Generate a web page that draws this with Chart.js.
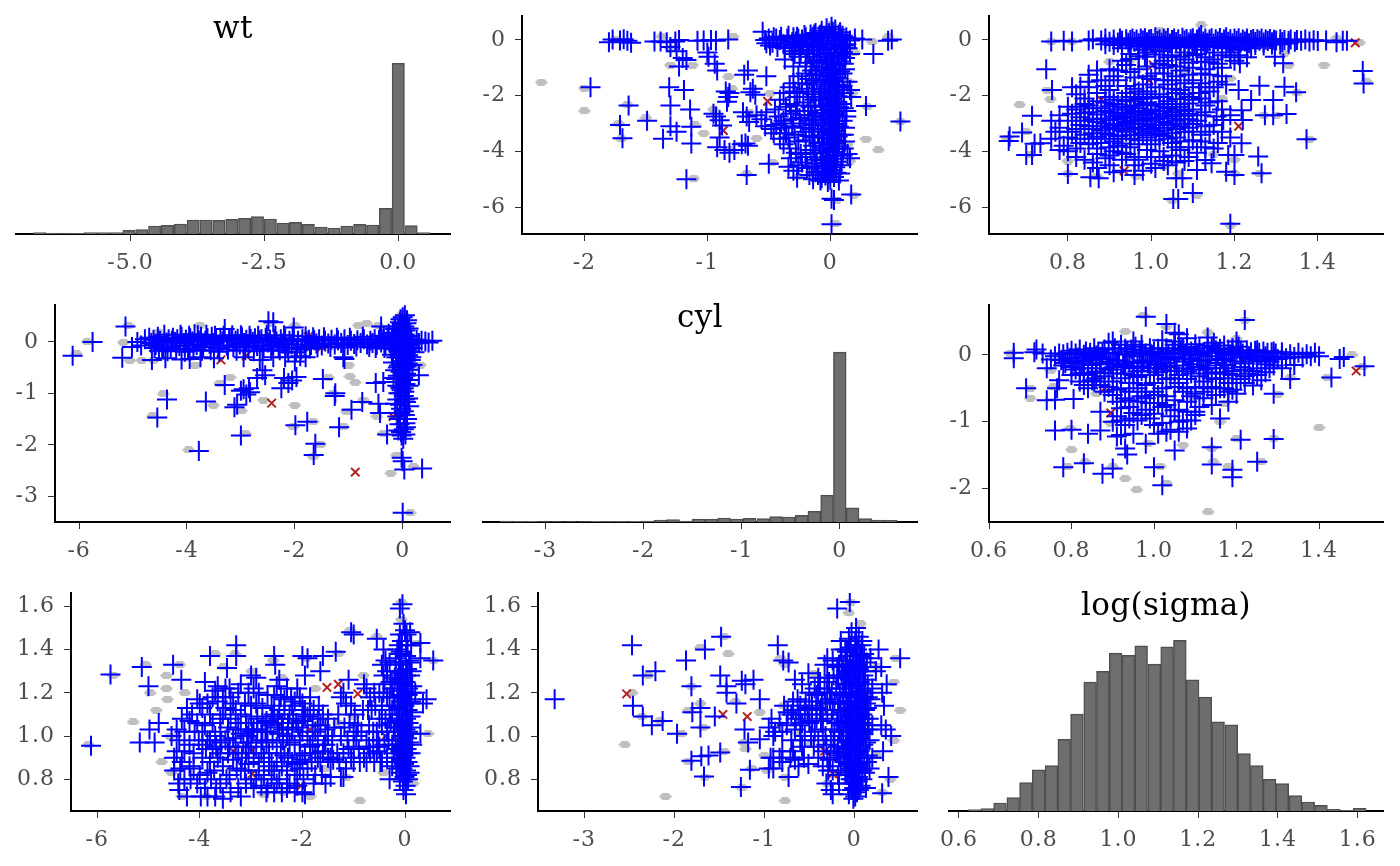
<!DOCTYPE html>
<html>
<head>
<meta charset="utf-8">
<title>pairs</title>
<script src="https://cdn.jsdelivr.net/npm/chart.js@4"></script>
<style>
html, body { margin: 0; padding: 0; background: #fff; }
body { width: 1400px; height: 866px; position: relative; overflow: hidden; }
canvas { position: absolute; }
</style>
</head>
<body>
<script>
// histograms on the diagonal: bin centres and heights
const wtBins = [-6.7,-6.46,-6.22,-5.99,-5.75,-5.51,-5.27,-5.03,-4.79,-4.55,-4.31,-4.07,-3.83,-3.59,-3.35,-3.11,-2.87,-2.63,-2.39,-2.15,-1.92,-1.68,-1.44,-1.2,-.96,-.72,-.48,-.24,0,.24,.48];
const wtCounts = [4,3,3,2,4,4,4,11,13,24,26,30,42,42,41,44,47,52,45,33,35,29,21,18,24,29,27,77,512,25,4];
const cylBins = [-3.4,-3.27,-3.14,-3.01,-2.88,-2.75,-2.61,-2.48,-2.35,-2.22,-2.09,-1.96,-1.83,-1.7,-1.57,-1.44,-1.31,-1.18,-1.05,-.92,-.78,-.65,-.52,-.39,-.26,-.13,0,.13,.26,.39,.52];
const cylCounts = [3,2,2,1,1,1,1,2,2,2,2,3,6,7,3,9,8,12,9,11,10,16,15,20,32,81,511,43,10,6,5];
const sigmaBins = [.639,.671,.703,.736,.768,.8,.832,.864,.896,.929,.961,.993,1.025,1.057,1.09,1.122,1.154,1.186,1.218,1.25,1.283,1.315,1.347,1.379,1.411,1.444,1.476,1.508,1.54,1.572,1.605];
const sigmaCounts = [4,7,24,40,85,123,136,215,290,386,418,473,466,495,440,492,511,393,341,267,258,172,136,95,82,46,27,17,5,2,8];

// tick labels
const wtHistTicks = [-5,-2.5,0];
const wtHistLabels = ['-5.0','-2.5','0.0'];
const cylTicks = [-3,-2,-1,0];
const cylLabels = ['-3','-2','-1','0'];
const sigmaHistTicks = [.6,.8,1,1.2,1.4,1.6];
const sigmaHistLabels = ['0.6','0.8','1.0','1.2','1.4','1.6'];
const wtAxisTicks = [-6,-4,-2,0];
const wtAxisLabels = ['-6','-4','-2','0'];
const wtValTicks = [-6,-4,-2,0];
const wtValLabels = ['-6','-4','-2','0'];
const cylValTicks = [-3,-2,-1,0];
const cylValLabels = ['-3','-2','-1','0'];
const sigmaXTicks = [.8,1,1.2,1.4];
const sigmaXLabels = ['0.8','1.0','1.2','1.4'];
const sigmaXTicks6 = [.6,.8,1,1.2,1.4];
const sigmaXLabels6 = ['0.6','0.8','1.0','1.2','1.4'];
const sigmaYTicks = [.8,1,1.2,1.4,1.6];
const sigmaYLabels = ['0.8','1.0','1.2','1.4','1.6'];

// row 1 col 2: cyl (x) against wt (y)
const cylWtPlus = [[-1.95,-1.7],[-1.8,-.08],[-1.77,.02],[-1.71,-.02],[-1.68,.03],[-1.65,-.03],[-1.62,-.1],[-1.64,-2.35],[-1.49,-2.9],[-1.71,-3.05],[-1.69,-3.53],[-1.36,-3.55],[-1.31,-1.7],[-1.3,-2.35],[-1.3,-3.1],[-1.25,-3.3],[-1.19,-1.8],[-1.14,-2.5],[-1.13,-3.12],[-1.13,-3.72],[-1.17,-5],[-1.43,-.05],[-1.38,-.05],[-1.33,-.08],[-1.26,-.05],[-1.23,0],[-1.3,-.25],[-1.25,-.4],[-1.2,-.65],[-1.17,-.72],[-1.23,-.95],[-1.08,-.03],[-1.03,-.02],[-.97,0],[-.93,-.03],[-.83,.02],[-1,-.45],[-.99,-.6],[-.94,-.85],[-.92,-1.1],[-.82,-1.9],[-.85,-1.85],[-.83,-2.05],[-.84,-2.22],[-.95,-2.65],[-.93,-2.75],[-.9,-2.88],[-.88,-3.07],[-.9,-3.5],[-.92,-3.85],[-.86,-3.95],[-.82,-4.05],[-.78,-3.95],[-.72,-3.75],[-.69,-3.72],[-.67,-3.8],[-.7,-1.25],[-.67,-1.1],[-.52,-1.3],[-.63,-1.75],[-.65,-1.88],[-.61,-1.97],[-.71,-2.6],[-.68,-2.75],[-.66,-2.95],[-.6,-2.7],[-.56,-2.85],[-.52,-2.6],[-.48,-3.2],[-.44,-3.05],[-.4,-3],[-.68,-4.85],[-.5,-4.45],[-.38,-2.9],[-.36,-3.35],[-.34,-3.5],[-.32,-2.65],[-.33,-3.9],[-.32,-4.25],[-.34,-4.55],[-.3,-4.7],[-.27,-4.95],[-.33,-1.7],[-.29,-1.85],[-.27,-2.05],[-.25,-1.9],[-.22,-2.25],[-.24,-3],[-.22,-3.3],[-.2,-3.6],[-.18,-2.55],[-.17,-2.9],[-.15,-3.2],[-.14,-3.8],[-.13,-4.3],[-.12,-4.05],[-.15,-1.85],[-.13,-2.15],[-.12,-1.25],[-.16,-.95],[-.11,-.8],[-.12,-4.75],[-.08,-5.05],[-.55,.3],[-.53,0],[-.5,.05],[-.47,-.1],[-.44,.05],[-.41,0],[-.38,-.15],[-.35,.05],[-.33,-.28],[-.3,.1],[-.28,-.05],[-.26,.05],[-.23,.02],[-.2,.1],[-.18,-.2],[-.16,.05],[-.14,.12],[-.37,-.7],[-.3,-.95],[-.25,-.6],[-.2,-.82],[-.13,-.35],[-.17,-.5],[.13,.1],[.16,-.02],[.2,.05],[.26,.02],[.14,-.3],[.16,-.5],[.12,-.65],[.35,-.5],[.47,-.03],[.5,.02],[.14,-1.5],[.16,-1.8],[.17,-2.05],[.13,-2.55],[.13,-2.75],[.12,-3.15],[.12,-3.65],[.16,-4.25],[.14,-4.1],[.29,-2.37],[.57,-2.93],[.17,-5.55],[.01,-5.7],[.03,-5.75],[.01,-6.62],[.01,.48],[-.03,.42],[.04,.38],[-.07,.33],[.02,.28],[-.01,.24],[.07,.2],[-.09,.15],[.03,.11],[-.05,.07],[.09,.03],[-.02,-.02],[.05,-.06],[-.11,-.1],[.01,-.15],[-.06,-.2],[.08,-.24],[-.03,-.29],[.04,-.33],[-.08,-.38],[.1,-.43],[0,-.47],[-.05,-.52],[.06,-.57],[-.02,-.62],[.03,-.67],[-.09,-.72],[.07,-.77],[-.04,-.82],[.01,-.87],[.05,-.92],[-.07,-.97],[.02,-1.02],[-.03,-1.07],[.08,-1.12],[-.01,-1.17],[.04,-1.22],[-.06,-1.27],[.01,-1.32],[.06,-1.37],[-.04,-1.42],[.03,-1.47],[-.08,-1.52],[0,-1.57],[.05,-1.62],[-.02,-1.67],[.07,-1.72],[-.05,-1.77],[.02,-1.82],[-.07,-1.87],[.04,-1.92],[-.01,-1.97],[.06,-2.02],[-.04,-2.07],[.01,-2.12],[-.08,-2.17],[.05,-2.22],[-.02,-2.27],[.03,-2.32],[-.06,-2.37],[.07,-2.42],[0,-2.47],[-.03,-2.52],[.04,-2.57],[-.07,-2.62],[.02,-2.67],[.06,-2.72],[-.05,-2.77],[.01,-2.82],[-.02,-2.87],[.05,-2.92],[-.08,-2.97],[.03,-3.02],[-.04,-3.07],[.07,-3.12],[0,-3.17],[-.06,-3.22],[.04,-3.27],[-.02,-3.32],[.02,-3.37],[-.07,-3.42],[.06,-3.47],[-.03,-3.52],[.01,-3.57],[.05,-3.62],[-.05,-3.67],[.03,-3.72],[-.01,-3.77],[.07,-3.82],[-.06,-3.87],[.02,-3.92],[-.03,-3.97],[.04,-4.02],[-.08,-4.07],[.06,-4.12],[0,-4.17],[-.04,-4.22],[.03,-4.27],[-.07,-4.32],[.05,-4.37],[-.02,-4.42],[.01,-4.47],[-.05,-4.52],[.04,-4.57],[-.03,-4.62],[.02,-4.67],[-.06,-4.72],[.05,-4.77],[-.01,-4.82],[-.04,-4.87],[.03,-4.92],[-.07,-4.97],[0,-5.02],[-.02,-5.1]];
const cylWtDense = [[-.42,-2.75],[-.37,-3.15],[-.31,-3.1],[-.29,-3.4],[-.28,-2.55],[-.26,-3.65],[-.25,-2.8],[-.24,-4.1],[-.23,-4.4],[-.21,-2.7],[-.2,-3.15],[-.19,-1.75],[-.19,-4.6],[-.18,-2.05],[-.17,-3.45],[-.16,-2.4],[-.16,-3.95],[-.15,-2.7],[-.15,-4.55],[-.14,-1.6],[-.14,-3.05],[-.13,-1.95],[-.13,-3.5],[-.12,-2.35],[-.12,-2.85],[-.11,-4.45],[-.11,-1.45],[-.1,-3.3],[-.1,-4.85],[-.09,-1.1],[-.09,-2.05],[-.09,-3.7],[.1,-1.2],[.1,-1.65],[.09,-2.3],[.1,-2.9],[.09,-3.4],[.11,-3.9],[.09,-4.5],[.09,-.6],[.11,-.85],[-.14,-.6],[-.19,-.35],[-.22,-.15],[-.25,-.25],[-.12,.25],[.13,-.15],[-.16,.2],[.08,.28],[-.31,-.4],[-.29,-.2]];
const cylWtExtra = [[-.52,-.12],[-.49,-.2],[-.46,.1],[-.43,-.25],[-.4,.12],[-.37,-.3],[-.34,.15],[-.31,-.08],[-.29,-.5],[-.27,.12],[-.24,-.42],[-.21,.18],[-.19,-.1],[-.15,-.18],[-.13,.2],[-.1,-.25],[-.08,.2],[.1,.15],[.11,-.3],[.13,-.5],[-.13,-.75],[-.15,-1.1],[-.17,-1.4],[-.23,-1.55],[-.2,-1.2],[-.26,-1.3],[-.3,-1.55],[-.38,-1.9],[-.41,-2.15],[-.36,-2.4],[-.45,-2.5],[-.33,-2.3],[-.27,-2.35],[-.3,-2.85],[-.41,-3.55],[-.38,-3.75],[-.46,-3.35],[-.53,-3.1],[-.28,-4.05],[-.26,-4.5],[-.2,-4.2],[-.17,-4.85],[-.14,-5],[.11,-.2],[.12,-1.05],[.11,-1.9],[.11,-2.45],[.11,-3.4],[.1,-4.15],[.08,-4.8],[.07,-5.05]];
const cylWtGrey = [[-2.35,-1.52],[-2,-1.73],[-2,-2.55],[-1.65,-2.33],[-1.5,-2.8],[-1.72,-3],[-1.7,-3.55],[-1.03,-3.35],[-.6,-3.53],[.29,-3.56],[.39,-3.95],[-.83,-1.32],[-.49,-1.92],[.05,-5.75],[.19,-5.57],[.04,-6.59],[-1.11,-4.97],[-.68,-4.8],[-.47,-4.4],[-.26,-4.9],[-1.3,-.9],[-1.12,-.9],[-1.37,.12],[-.79,.12],[.01,.54],[.34,-.06],[.47,.12],[.57,-2.93],[.3,-2.4],[-.95,-2.5],[-.8,-1.75],[-1.1,-3.05],[-1.75,0],[-1.3,-.3],[-.66,-2.6],[-.82,-3.95],[.15,-1.5],[.18,-1.9],[.16,-4.35],[.14,-3.75],[.2,-.45]];
const cylWtDiv = [[-.51,-2.2],[-.87,-3.25],[-.16,-.75],[-.25,-.1]];

// row 1 col 3: log(sigma) (x) against wt (y)
const sigWtPlus = [[.748,-1.05],[.762,-1.8],[.714,-2.72],[.66,-3.47],[.658,-3.63],[.69,-3.32],[.714,-4.13],[.7,-4.13],[.734,-3.71],[.72,-3.73],[.8,-4.81],[.854,-4.93],[.874,-4.97],[1.508,-1.11],[1.51,-1.56],[1.373,-3.57],[1.19,-6.6],[1.053,-5.71],[1.065,-5.71],[1.1,-5.5],[1.075,-4.97],[1.06,-4.97],[1.265,-4.79],[1.257,-4.19],[1.217,-3.71],[1.2,-4.85],[1.18,-4.73],[1.2,-4.13],[1.185,-4.13],[1.145,-4.43],[1.13,-4.31],[1.11,-4.67],[1.325,-2.66],[1.293,-2.7],[1.273,-2.7],[1.293,-2.16],[1.348,-1.88],[1.32,-1.68],[1.317,-.84],[1.297,-.6],[1.26,-1.64],[1.24,-2.16],[1.21,-1.8],[1.217,-2.52],[1.22,-2.87],[1.19,-2.7],[1.173,-2.87],[1.157,-2.75],[1.213,-.84],[1.19,-.62],[1.17,-1],[1.16,-1.5],[1.13,-1.7],[1.115,-1.9],[1.17,-1.3],[1.14,-.8],[1.1,-.55],[1.08,-.7],[1.06,-.95],[1.04,-.62],[1.02,-.85],[.985,-.6],[.95,-.68],[.93,-.75],[.9,-1.05],[.87,-1.1],[.88,-1.45],[.85,-1.25],[.83,-1.68],[.81,-1.7],[.78,-2.7],[.76,-2.9],[.77,-3.3],[.76,-3.55],[.79,-3.8],[.78,-3.95],[.8,-4],[.82,-3.9],[.84,-4.3],[.86,-4.4],[.9,-4.5],[.93,-4.7],[.96,-4.85],[.98,-4.7],[1.01,-4.6],[1.04,-4.5],[.8,-2.4],[.82,-2.5],[.84,-2.3],[.85,-2.6],[.87,-2.2],[.86,-2.85],[.88,-2.45],[.88,-3.1],[.83,-3.05],[.81,-3.3],[.84,-3.4],[.86,-3.55],[.89,-3.35],[.88,-3.7],[.9,-2.05],[.91,-2.3],[.9,-2.6],[.92,-2.85],[.91,-3.05],[.93,-3.25],[.9,-3.55],[.92,-3.8],[.91,-4],[.89,-4.25],[.94,-1.9],[.93,-2.15],[.95,-2.4],[.94,-2.65],[.96,-2.78],[.94,-2.95],[.96,-3.15],[.95,-3.4],[.97,-3.6],[.95,-3.85],[.94,-4.1],[.97,-4.3],[.98,-1.6],[.97,-1.85],[.99,-2.05],[.98,-2.3],[1,-2.5],[.98,-2.7],[1,-2.9],[.99,-3.1],[1.01,-3.3],[.99,-3.5],[1,-3.75],[1.02,-4],[1,-4.2],[1.01,-1.2],[1.03,-1.45],[1.01,-1.7],[1.02,-1.95],[1.04,-2.2],[1.03,-2.4],[1.05,-2.6],[1.02,-2.8],[1.04,-3],[1.06,-3.2],[1.03,-3.45],[1.05,-3.7],[1.07,-3.95],[1.05,-4.15],[1.08,-4.35],[1.06,-1.3],[1.08,-1.55],[1.07,-1.8],[1.09,-2.05],[1.07,-2.3],[1.1,-2.5],[1.08,-2.72],[1.11,-2.9],[1.09,-3.15],[1.12,-3.4],[1.1,-3.6],[1.13,-3.85],[1.11,-4.05],[1.12,-1.2],[1.14,-2.25],[1.13,-2.6],[1.15,-3.05],[1.14,-3.3],[1.16,-3.7],[.82,-1.95],[.85,-1.7],[.92,-1.45],[.95,-1.15],[1.04,-.9],[.84,-2.1],[.86,-3.2],[.9,-3.15],[.92,-2.5],[.96,-2.55],[1,-2.65],[1.03,-2.55],[.97,-3],[.94,-3.1],[.93,-3.55],[.99,-2.85],[.87,-2.68],[.91,-2.75],[1.06,-2.9],[1,-3.2],[.96,-2.2],[.85,-.02],[.79,-.03],[.76,-.05],[.81,-.05],[.86,.03],[.88,-.02],[.89,.05],[.9,-.06],[.91,.02],[.92,-.09],[.925,.05],[.93,-.03],[.94,.03],[.945,-.1],[.95,0],[.955,.05],[.96,-.06],[.965,.02],[.97,-.12],[.975,.05],[.98,-.02],[.985,.06],[.99,-.08],[.995,.02],[1,.04],[1.005,-.12],[1.01,.1],[1.015,-.04],[1.02,.02],[1.025,-.1],[1.03,.05],[1.035,-.03],[1.04,.07],[1.045,-.13],[1.05,0],[1.055,.05],[1.06,-.07],[1.065,.03],[1.07,-.14],[1.075,.08],[1.08,-.02],[1.085,.04],[1.09,-.09],[1.095,.03],[1.1,.06],[1.105,-.12],[1.11,.02],[1.115,.1],[1.12,.18],[1.125,-.05],[1.13,.05],[1.135,-.1],[1.14,.02],[1.145,.06],[1.15,-.13],[1.155,.03],[1.16,-.05],[1.165,.07],[1.17,-.1],[1.175,.02],[1.18,.1],[1.185,-.06],[1.19,.03],[1.195,-.12],[1.2,.05],[1.205,-.03],[1.21,.06],[1.215,-.1],[1.22,.02],[1.225,-.05],[1.23,.05],[1.235,-.12],[1.24,0],[1.245,.04],[1.25,-.07],[1.255,.03],[1.26,-.03],[1.265,.05],[1.27,-.09],[1.275,.02],[1.28,-.04],[1.285,.04],[1.29,-.08],[1.295,.01],[1.3,-.02],[1.31,.03],[1.315,-.07],[1.32,0],[1.33,-.04],[1.335,.02],[1.345,-.06],[1.35,0],[1.36,-.03],[1.37,.02],[1.38,-.05],[1.39,-.01],[1.4,-.04],[1.42,-.02],[1.445,-.08],[1.46,-.03],[1.47,-.03],[.98,-.35],[1.02,-.4],[1.05,-.3],[1.08,-.45],[1.12,-.35],[1.15,-.45],[1.18,-.3],[1.21,-.35],[1.24,-.3],[.93,-.3]];
const sigWtDense = [[.83,-2.78],[.84,-2.62],[.85,-3.1],[.85,-2.35],[.86,-2.45],[.86,-3.35],[.87,-2.95],[.87,-3.48],[.88,-2.82],[.88,-3.25],[.89,-2.25],[.89,-2.55],[.89,-3],[.9,-2.38],[.9,-2.88],[.9,-3.4],[.91,-2.15],[.91,-2.62],[.91,-3.2],[.91,-3.65],[.92,-2.32],[.92,-2.7],[.92,-3.02],[.92,-3.45],[.93,-2.42],[.93,-2.8],[.93,-3.12],[.93,-3.72],[.94,-2.2],[.94,-2.5],[.94,-2.75],[.94,-3.3],[.95,-2.05],[.95,-2.6],[.95,-2.9],[.95,-3.2],[.95,-3.55],[.96,-2.35],[.96,-2.68],[.96,-3.02],[.96,-3.42],[.97,-2.12],[.97,-2.45],[.97,-2.85],[.97,-3.22],[.97,-3.75],[.98,-2.55],[.98,-2.9],[.98,-3.35],[.98,-1.95],[.99,-2.25],[.99,-2.62],[.99,-3],[.99,-3.28],[1,-2.1],[1,-2.35],[1,-2.78],[1,-3.05],[1,-3.42],[1.01,-2.55],[1.01,-2.85],[1.01,-3.15],[1.01,-3.6],[1.02,-2.3],[1.02,-2.65],[1.02,-3.05],[1.02,-3.38],[1.03,-2.05],[1.03,-2.72],[1.03,-2.95],[1.03,-3.25],[1.04,-2.45],[1.04,-2.82],[1.04,-3.15],[1.04,-3.55],[1.05,-2.3],[1.05,-2.75],[1.05,-3.05],[1.05,-3.35],[1.06,-2.12],[1.06,-2.5],[1.06,-2.68],[1.06,-3.5],[1.07,-2.4],[1.07,-2.85],[1.07,-3.1],[1.07,-3.65],[1.08,-1.95],[1.08,-2.55],[1.08,-3],[1.08,-3.3],[1.09,-2.28],[1.09,-2.65],[1.09,-2.85],[1.1,-2.15],[1.1,-3.02],[1.1,-3.3],[.82,-3.2],[.84,-2.9],[.83,-2.4],[.82,-3.55],[.85,-3.75],[.87,-3.9],[.9,-3.85],[.93,-4.05],[.96,-4.2],[.99,-3.95],[1.03,-4.2],[1.06,-3.85],[1.09,-3.85],[.94,-1.65],[1,-1.4],[1.05,-1.75],[.96,-1.35],[1.1,-1.7],[1.03,-1.2],[1.09,-1.25],[1.13,-1.05],[.92,-1.1],[1.12,-2.1],[1.14,-1.85],[1.16,-2.2],[.8,-2.9],[.78,-3.15],[1.12,-2.7],[1.13,-3.1]];
const sigWtExtra = [[.89,-.15],[.91,-.18],[.93,-.14],[.95,-.2],[.97,-.22],[.99,-.16],[1.01,-.25],[1.03,-.18],[1.05,-.22],[1.07,-.25],[1.09,-.18],[1.11,-.24],[1.13,-.2],[1.15,-.24],[1.17,-.17],[1.19,-.24],[1.21,-.2],[1.23,-.22],[1.25,-.18],[1.27,-.2],[1.29,-.16],[1.31,-.15],[1.33,-.13],[.95,-.5],[.97,-.58],[.99,-.45],[1.01,-.52],[1.03,-.75],[1.05,-.55],[1.07,-.6],[1.09,-.82],[1.11,-.5],[1.13,-.62],[1.15,-.7],[1.17,-.55],[1.19,-.45],[1.21,-.55],[1.23,-.62],[1.2,-.75],[1.16,-.85],[1.12,-.78],[1.07,-1.1],[1.1,-1],[1.03,-1],[.99,-.95],[.97,-1.05],[.94,-.9],[.99,-1.3],[1.05,-1.45],[1.1,-1.45],[1.14,-1.25],[.91,-1.3],[.89,-1.65],[.9,-1.8],[.87,-1.9],[.96,-1.75],[.99,-1.85],[1.04,-1.6],[1.06,-1.9],[1.12,-1.55],[1.18,-1.6],[1.15,-1.7],[.85,-1.5],[.87,-4.1],[.9,-4.15],[.93,-4.3],[.96,-4.5],[1,-4.45],[1.03,-4.35],[1.06,-4.4],[.83,-3.7],[.82,-4.2],[.87,-4.6],[.91,-4.75],[1.09,-4.2],[1.12,-3.65],[1.15,-3.9],[1.17,-3.3],[1.19,-3.5],[1.17,-2.5],[1.13,-2.35],[.8,-3.5],[.81,-2.65]];
const sigWtGrey = [[.684,-2.33],[1.415,-.9],[1.517,-1.5],[.758,-2.12],[.7,-3.3],[.654,-3.53],[.71,-4.13],[.8,-4.35],[.8,-4.8],[1.05,-5.75],[1.11,-5.57],[1.19,-6.65],[1.2,-4.8],[1.26,-4.8],[1.38,-3.57],[1.27,-2.7],[1.3,-2.7],[1.12,.54],[1.5,-.1],[1.445,.06],[1.33,-.9],[1.32,-.48],[.76,-.06],[.81,-.06],[.9,-.78],[.95,-.72],[1.08,-1.08],[1.19,-1.38],[1.17,-2.1],[1.065,-4.8],[1.03,-4.55],[.87,-4.9],[.965,-4.9],[1.2,-4.3],[1.22,.06],[1.02,.35],[1.35,-1.9],[1.15,-4.1],[.75,-1.8]];
const sigWtDiv = [[1.49,-.1],[.88,-2.15],[1.21,-3.1],[1.005,-.9],[.995,-1.45],[.935,-4.7]];

// row 2 col 1: wt (x) against cyl (y)
const wtCylPlus = [[-6.12,-.27],[-5.75,0],[-5.14,.3],[-5.2,-.31],[-5.02,-.1],[-4.92,0],[-4.85,-.07],[-4.78,.05],[-4.55,-1.47],[-4.37,-1.12],[-3.78,-2.12],[-3.65,-1.16],[-3.3,-.84],[-3.12,-1.27],[-3.07,-1.22],[-3,-1.82],[-3,-.95],[-2.95,-.92],[-2.9,-1.02],[-2.85,-.9],[-2.83,-.98],[-2.6,-.55],[-2.7,-.7],[-2.55,-.65],[-2.49,.4],[-2.4,.38],[-2.02,.28],[-2.25,-.9],[-2.2,-.7],[-2.12,-.8],[-2.05,-.75],[-1.99,-1.62],[-1.97,-.68],[-1.77,-1.55],[-1.62,-1.98],[-1.65,-2.2],[-1.48,-.72],[-1.26,-1.05],[-1.25,-1],[-1.18,-1.66],[-1.08,-.33],[-.95,-1.32],[-.75,-1.17],[-.45,-1.2],[-.5,-.8],[-.42,-1.38],[-.36,-.78],[-.29,-1.8],[-.02,-2.25],[0,-2.32],[.03,-2.48],[.36,-2.46],[0,-3.32],[-.14,-1.2],[-.1,-1.45],[-.06,-1.6],[-.02,-1.82],[.02,-1.7],[.06,-1.66],[.1,-1.1],[.12,-1.25],[-.05,-1.38],[.04,-1.42],[-.4,.3],[-.35,.1],[-.15,.3],[0,.48],[.08,.42],[.04,.52],[-.05,.38],[.55,.02],[.48,-.01],[.42,.01],[.35,.02],[.3,-.65],[.18,-.45],[-4.65,-.35],[-4.4,-.32],[-4.1,-.34],[-3.95,-.33],[-3.75,-.3],[-3.5,-.32],[-2.95,-.3],[-2.65,-.35],[-2.4,-.3],[-2.18,-.3],[-2,-.38],[-1.8,-.3],[-1.1,-.3],[-4.7,.08],[-4.66,-.02],[-4.62,.04],[-4.58,-.06],[-4.54,.1],[-4.5,.02],[-4.46,-.1],[-4.42,.14],[-4.38,-.01],[-4.34,.05],[-4.3,-.12],[-4.26,.08],[-4.22,0],[-4.18,.05],[-4.14,-.08],[-4.1,.1],[-4.06,-.02],[-4.02,.04],[-3.98,-.13],[-3.94,.07],[-3.9,.01],[-3.86,.15],[-3.82,-.06],[-3.78,.03],[-3.74,.1],[-3.7,-.1],[-3.66,.02],[-3.62,.07],[-3.58,-.04],[-3.54,.1],[-3.5,-.02],[-3.46,.05],[-3.42,-.12],[-3.38,.08],[-3.34,.01],[-3.3,.25],[-3.26,-.07],[-3.22,.04],[-3.18,.08],[-3.14,-.1],[-3.1,.02],[-3.06,.06],[-3.02,-.05],[-2.98,.09],[-2.94,-.02],[-2.9,.04],[-2.86,-.11],[-2.82,.06],[-2.78,0],[-2.74,.07],[-2.7,-.08],[-2.66,.03],[-2.62,.05],[-2.58,-.13],[-2.54,.08],[-2.5,-.01],[-2.46,.04],[-2.42,-.06],[-2.38,.06],[-2.34,.01],[-2.3,-.1],[-2.26,.05],[-2.22,-.03],[-2.18,.07],[-2.14,-.12],[-2.1,.02],[-2.06,-.05],[-2.02,.04],[-1.98,-.2],[-1.94,.02],[-1.9,-.28],[-1.86,.05],[-1.82,-.09],[-1.78,.01],[-1.74,.04],[-1.7,-.06],[-1.64,.03],[-1.6,-.03],[-1.55,.05],[-1.5,-.07],[-1.44,.02],[-1.38,-.03],[-1.32,.04],[-1.26,-.05],[-1.2,.03],[-1.14,-.02],[-1.08,.05],[-1.02,-.06],[-.96,.02],[-.9,-.04],[-.84,.03],[-.78,-.02],[-.72,.05],[-.66,-.05],[-.6,.02],[-.56,-.02],[-.52,.05],[-.48,-.06],[-.44,.04],[-.4,-.01],[-.36,.06],[-.32,-.07],[-.28,.03],[-.24,-.02],[-.2,.08],[-.16,-.06],[-.12,.02],[.16,.05],[.2,-.03],[.26,.04],[.3,-.02],[-.02,.34],[.03,.3],[-.07,.26],[.05,.22],[-.12,.18],[.01,.14],[.09,.1],[-.06,.06],[.04,.02],[-.1,-.02],[.12,-.06],[-.03,-.1],[.07,-.14],[-.08,-.18],[.02,-.22],[.1,-.26],[-.05,-.3],[.05,-.34],[-.01,-.38],[.09,-.42],[-.07,-.46],[.03,-.5],[.12,-.54],[-.04,-.58],[.06,-.62],[-.09,-.66],[.01,-.7],[.1,-.74],[-.03,-.78],[.05,-.82],[-.06,-.86],[.02,-.9],[-.02,-.94],[-.05,-1],[.02,-1.05],[-.1,-1.12],[.06,-1.17],[-.03,-1.3],[.08,-1.5],[-.08,-1.72],[.01,-1.88],[.18,-.12],[.22,-.2],[.16,-.3],[.15,-.35],[-.2,-.25],[-.18,-.4],[-.14,-.55],[-.12,-.3],[-.17,-.7],[-.1,-.85]];
const wtCylDense = [[-4.6,-.12],[-4.52,-.17],[-4.44,-.15],[-4.36,-.18],[-4.28,.02],[-4.2,-.15],[-4.12,.14],[-4.04,-.19],[-3.96,.12],[-3.88,-.16],[-3.8,.13],[-3.72,-.17],[-3.64,.14],[-3.56,-.16],[-3.48,.12],[-3.4,-.19],[-3.32,.12],[-3.24,-.15],[-3.16,.13],[-3.08,-.17],[-3,.13],[-2.92,-.16],[-2.84,.12],[-2.76,-.18],[-2.68,.12],[-2.6,-.14],[-2.52,.13],[-2.44,-.17],[-2.36,.12],[-2.28,-.16],[-2.2,.13],[-2.12,-.2],[-2.04,.12],[-1.96,-.12],[-1.88,-.15],[-1.8,.11],[-1.72,-.13],[-1.66,.09],[-1.58,-.11],[-1.46,.09],[-1.34,-.1],[-1.22,.08],[-1.1,-.11],[-.98,.08],[-.86,-.09],[-.74,.1],[-.62,-.1],[-.5,-.12],[-.42,.12],[-.34,-.12],[-.26,.16],[-.22,-.13],[-.14,-.14],[-.18,.18],[.14,.12],[.13,-.18],[.11,.26],[-.14,.25],[-.1,.12],[.07,.36],[-.04,.44],[-.05,-.72],[.07,-.48],[-.09,-.5],[.05,-.66],[-.12,-.72],[.11,-.85],[-.04,-.9],[.03,-.97],[-.08,-1],[.04,-1.12],[-.05,-1.22],[.02,-1.35],[-.07,-1.5],[.05,-1.58],[-.03,-1.75],[.05,-1.8]];
const wtCylGrey = [[-6.05,-.23],[-5.85,0],[-5.09,.32],[-5.18,-.01],[-5.06,-.36],[-4.84,-.36],[-4.62,-.36],[-4.53,.19],[-4.44,-1.01],[-4.64,-1.44],[-3.97,-2.1],[-3.51,-1.23],[-3.85,-.45],[-3.76,.32],[-3.2,-.69],[-3.39,-.8],[-2.99,-1.34],[-2.92,-1.78],[-2.58,-1.13],[-2.46,.36],[-2,.32],[-2,-1.23],[-2.03,-1.65],[-1.66,-1.55],[-1.66,-2.23],[-1.53,-2],[-1.38,-.69],[-1.29,-1],[-1.1,-1.65],[-.98,-.67],[-.88,-.79],[-1,-.45],[-.82,.32],[-.67,.36],[-1.04,-1.36],[-.73,-1.13],[-.48,-1.45],[-.22,-2.55],[-.11,-2.2],[.14,-3.32],[.2,-2.42],[.33,-.45],[0,.55],[-.45,.32],[-.36,-1.78]];
const wtCylDiv = [[-.88,-2.53],[-2.43,-1.19],[-3.37,-.35],[-1.5,-.1],[-2.9,-.27],[-1.75,.1],[-.18,-1.45]];

// row 2 col 3: log(sigma) (x) against cyl (y)
const sigCylPlus = [[.66,.03],[.66,-.05],[.69,-.5],[.71,.04],[.715,.08],[.73,.02],[.74,-.68],[.76,-.67],[.77,-.38],[.765,-.5],[.74,-.2],[.76,-1.13],[.78,-1.68],[.8,-1.12],[.805,-.66],[.83,-.45],[.83,-1.62],[.84,-1.18],[.855,-.4],[.87,-1.13],[.875,-1.78],[.9,-1.7],[.91,-1.22],[.92,-1.2],[.93,-1.4],[.935,-1.49],[.98,-1.33],[1,-1.68],[1.02,-1.95],[1.05,-1.43],[.98,.57],[1.03,.46],[1.05,.33],[1.06,.31],[1.13,.26],[1.22,.52],[1.2,.2],[1.14,-1.38],[1.14,-1.64],[1.19,-1.72],[1.19,-1.83],[1.25,-1.6],[1.21,-1.27],[1.29,-1.26],[1.29,-.58],[1.16,-.95],[1.2,-.58],[1.18,-.7],[1.24,-.46],[1.33,-.36],[1.43,-.34],[1.51,-.17],[1.46,-.03],[1.45,-.06],[.87,-.85],[.9,-1],[.91,-.92],[.94,-.95],[.93,-.65],[.91,-.7],[.95,-.87],[.97,-.9],[.99,-.95],[1,-1.05],[1.01,-1.18],[1.03,-1.15],[1.06,-1.15],[1.08,-1.1],[1.09,-.98],[1.1,-.9],[1.12,-.65],[1.1,-.85],[1.08,-.7],[1.05,-.83],[1.03,-.75],[1.01,-.72],[1,-.6],[.98,-.65],[1,-.55],[.96,-.5],[.94,-.42],[.92,-.5],[.9,-.4],[.87,-.45],[.84,-.5],[.86,-.35],[.82,-.28],[.8,-.3],[1.06,-.42],[1.08,-.5],[1.14,-.35],[1.17,-.35],[1.21,-.36],[1.25,-.3],[1.12,-.4],[.95,-.3],[1,-.3],[1.04,-.35],[1.18,-.28],[.75,-.07],[.76,-.02],[.77,.02],[.775,-.08],[.78,.01],[.785,-.12],[.79,.03],[.795,-.05],[.8,.06],[.805,-.1],[.81,.02],[.815,-.04],[.82,.08],[.825,-.13],[.83,0],[.835,.05],[.84,-.08],[.845,.03],[.85,-.15],[.855,.1],[.86,-.01],[.865,.05],[.87,-.12],[.875,.02],[.88,.08],[.885,-.06],[.89,.18],[.895,-.14],[.9,.03],[.905,.1],[.91,-.08],[.915,.02],[.92,.15],[.925,-.15],[.93,0],[.935,.05],[.94,-.1],[.945,.08],[.95,-.02],[.955,.12],[.96,-.17],[.965,.04],[.97,.07],[.975,-.08],[.98,.02],[.985,-.13],[.99,.1],[.995,0],[1,.05],[1.005,-.15],[1.01,.09],[1.015,-.03],[1.02,.03],[1.025,-.12],[1.03,.1],[1.035,.01],[1.04,-.07],[1.045,.06],[1.05,.15],[1.055,-.16],[1.06,.03],[1.065,.08],[1.07,-.1],[1.075,.02],[1.08,.12],[1.085,-.05],[1.09,.05],[1.095,-.14],[1.1,.07],[1.105,0],[1.11,.1],[1.115,-.09],[1.12,.04],[1.125,-.16],[1.13,.14],[1.135,-.02],[1.14,.05],[1.145,.18],[1.15,-.12],[1.155,.03],[1.16,.09],[1.165,-.06],[1.17,.02],[1.175,-.15],[1.18,.08],[1.185,0],[1.19,.05],[1.195,-.1],[1.2,.03],[1.205,.12],[1.21,-.04],[1.215,.02],[1.22,-.13],[1.225,.07],[1.23,-.02],[1.235,.04],[1.24,-.1],[1.245,.06],[1.25,-.01],[1.255,.03],[1.26,-.08],[1.265,.05],[1.27,-.02],[1.275,.03],[1.28,-.1],[1.285,.04],[1.29,-.03],[1.295,.02],[1.3,-.06],[1.31,.04],[1.32,-.05],[1.33,.01],[1.34,-.03],[1.35,.03],[1.36,-.04],[1.37,.01],[1.38,-.02],[1.39,.03],[1.4,-.02],[.83,-.2],[.9,-.22],[.96,-.25],[1.02,-.22],[1.08,-.25],[1.15,-.2],[1.22,-.22],[1.28,-.2],[1.34,-.15]];
const sigCylDense = [[.84,-.3],[.86,-.25],[.88,-.32],[.89,-.48],[.9,-.28],[.91,-.52],[.92,-.35],[.93,-.28],[.94,-.55],[.95,-.42],[.96,-.33],[.97,-.62],[.97,-.24],[.98,-.45],[.99,-.72],[.99,-.3],[1,-.42],[1.01,-.6],[1.01,-.26],[1.02,-.5],[1.02,-.78],[1.03,-.36],[1.03,-.62],[1.04,-.24],[1.04,-.92],[1.05,-.48],[1.05,-.68],[1.06,-.3],[1.06,-.82],[1.07,-.55],[1.07,-.98],[1.08,-.36],[1.09,-.62],[1.09,-.28],[1.1,-.48],[1.11,-.78],[1.11,-.32],[1.12,-.55],[1.13,-.28],[1.14,-.48],[1.15,-.36],[1.16,-.28],[1.17,-.5],[1.18,-.42],[1.19,-.3],[1.2,-.42],[1.22,-.32],[1.24,-.24],[.92,-.8],[.94,-.78],[.96,-.98],[.98,-.82],[1,-.88],[1.02,-1.02],[1.04,-1.12],[.93,-1.05],[.95,-1.18],[.92,-.98],[1.08,-.85],[1.06,-1],[.86,-.2],[.8,-.18],[1.12,-.22],[1.27,-.14],[1.05,.2],[.97,.15],[1.17,.14],[1.1,.16]];
const sigCylExtra = [[.78,-.16],[.81,-.12],[.83,-.1],[.85,-.06],[.87,-.03],[.89,-.1],[.91,-.13],[.93,.09],[.95,-.12],[.97,.01],[.99,-.1],[1.01,.02],[1.03,-.06],[1.05,-.03],[1.07,.1],[1.09,-.07],[1.11,.02],[1.13,-.08],[1.15,.07],[1.17,-.08],[1.19,.1],[1.21,.06],[1.23,-.07],[1.25,.07],[1.27,-.05],[1.29,.05],[1.31,-.02],[.81,-.22],[.83,-.27],[.85,-.38],[.87,-.27],[.89,-.22],[.91,-.18],[.93,-.18],[.95,-.2],[.97,-.18],[.99,-.2],[1.01,-.2],[1.03,-.18],[1.05,-.24],[1.07,-.2],[1.09,-.22],[1.11,-.18],[1.13,-.2],[1.15,-.26],[1.17,-.2],[1.19,-.24],[1.21,-.18],[1.23,-.28],[1.25,-.2],[1.27,-.26],[1.29,-.16],[1.31,-.2],[.88,-.55],[.82,-.4],[.98,-.55],[1.1,-.58],[1.13,-.5],[1.16,-.5],[1.19,-.52],[1.22,-.42],[1.26,-.38],[1.15,-.6],[.96,-.7],[.9,-.6],[.94,-.68],[1.14,-.75],[1.18,-.55],[.95,.2],[1.02,.22],[1.08,.25],[1.14,.12],[.9,.2]];
const sigCylGrey = [[1.131,-2.35],[.958,-2.02],[.93,-1.85],[.8,-1.42],[1.4,-1.09],[.93,.35],[.974,.59],[1.22,.52],[.652,.02],[.7,-.65],[.7,-.5],[.797,-1.1],[.833,-1.6],[.79,-1.67],[.9,-1.67],[1.015,-1.67],[1.03,-1.92],[1.144,-1.6],[1.18,-1.67],[1.26,-1.6],[1.2,-1.25],[1.29,-1.25],[1.07,-1.35],[.986,-1.32],[1.16,-1],[1.14,-1.4],[1.33,-.34],[1.42,-.34],[1.48,0],[1.505,-.18],[1.3,-.59],[1.13,.34],[1.2,.24],[1.03,.42],[.894,-1.02],[.86,-.58],[.756,-.48],[.75,-.23],[1.095,-.65],[1.17,-.73]];
const sigCylDiv = [[1.49,-.24],[.88,-.5],[.895,-.87]];

// row 3 col 1: wt (x) against log(sigma) (y)
const wtSigPlus = [[-6.12,.955],[-5.74,1.285],[-5.13,1.32],[-5,1.23],[-5.17,.97],[-4.98,1.03],[-4.8,1.06],[-4.88,.97],[-4.52,1.33],[-4.36,1.26],[-3.8,1.37],[-3.29,1.42],[-3.29,1.37],[-3.47,1.315],[-3.9,1.25],[-3.7,1.21],[-3.5,1.22],[-3.2,1.24],[-3,1.28],[-2.9,1.27],[-2.55,1.37],[-2.53,1.33],[-2.45,1.26],[-2,1.37],[-1.9,1.36],[-1.95,1.28],[-1.65,1.3],[-1.6,1.37],[-1.35,1.39],[-1.1,1.26],[-1.05,1.48],[-1,1.47],[-.8,1.24],[-.75,1.22],[-.55,1.45],[-.42,1.4],[-.1,1.59],[-.05,1.61],[-.45,1.33],[.3,1.43],[.3,1.36],[.55,1.35],[.42,1.17],[.35,1.15],[.3,1.01],[.2,1.2],[-4.4,.75],[-4.25,.72],[-4.3,.8],[-4.5,.84],[-4.35,.88],[-4.5,.9],[-4.3,.93],[-4.55,1.0],[-4.2,.96],[-4.2,1.07],[-4.3,1.02],[-4.35,1.08],[-4.4,.98],[-4.05,1.17],[-4,1.15],[-3.95,1.13],[-3.9,.76],[-3.85,.83],[-3.95,.9],[-4,.82],[-3.8,.88],[-3.75,.94],[-3.7,1],[-3.9,1.05],[-3.8,1.1],[-3.65,1.16],[-3.6,1.08],[-3.55,.71],[-3.6,.78],[-3.55,.86],[-3.6,.92],[-3.5,.98],[-3.45,1.04],[-3.5,1.13],[-3.4,1.18],[-3.3,1.12],[-3.25,1.06],[-3.2,1.01],[-3.3,.95],[-3.35,.89],[-3.2,.84],[-3.25,.76],[-3.1,.78],[-3.05,.87],[-3.1,.92],[-3,.97],[-3.05,1.03],[-3,1.09],[-2.9,1.15],[-2.85,1.2],[-2.95,.9],[-2.85,.84],[-2.8,.77],[-2.75,.9],[-2.7,.97],[-2.8,1.02],[-2.7,1.07],[-2.6,1.14],[-2.55,1.19],[-2.65,.86],[-2.6,.8],[-2.55,.74],[-2.45,.8],[-2.5,.88],[-2.5,.95],[-2.45,1.01],[-2.4,1.06],[-2.45,1.12],[-2.35,1.17],[-2.3,.76],[-2.3,.84],[-2.35,.91],[-2.25,.97],[-2.2,1.03],[-2.25,1.1],[-2.15,1.16],[-2.05,1.18],[-2.1,.77],[-2,.74],[-1.95,.73],[-2.1,.87],[-2,.89],[-1.95,.92],[-2.05,.98],[-1.9,1],[-2,1.07],[-1.9,1.09],[-1.8,.96],[-1.75,1.02],[-1.7,1.08],[-1.55,1.03],[-1.6,.93],[-1.5,.9],[-1.45,.81],[-1.4,.89],[-1.2,.81],[-1.15,.85],[-1.25,.81],[-1.1,.94],[-1.05,.9],[-1,.88],[-1.15,1.15],[-1.2,1.2],[-1.25,1.18],[-1.3,1.1],[-1,1.02],[-.95,1],[-.9,.94],[-.8,.9],[-.75,.98],[-.7,1.05],[-.65,1.12],[-.6,1.2],[-.6,.88],[-.55,.93],[-.5,1.08],[-.45,1.14],[-.4,1.24],[-.35,1.3],[-.3,1.18],[-.4,.96],[-.35,.9],[-.3,.8],[-.25,.86],[-.22,1.02],[-.25,1.12],[-.2,1.27],[-.18,1.36],[-.03,1.52],[0,1.49],[.03,1.47],[-.06,1.44],[.05,1.42],[-.08,1.39],[.02,1.37],[.08,1.35],[-.1,1.33],[.04,1.31],[-.04,1.3],[.1,1.28],[-.07,1.27],[.01,1.25],[-.12,1.24],[.06,1.22],[-.02,1.21],[.12,1.2],[-.09,1.19],[.03,1.17],[-.05,1.16],[.09,1.15],[-.01,1.14],[-.13,1.13],[.05,1.12],[-.06,1.1],[.11,1.09],[.02,1.08],[-.1,1.07],[.07,1.06],[-.03,1.05],[.01,1.03],[-.08,1.02],[.1,1.01],[-.02,1],[.04,.99],[-.11,.98],[.08,.97],[0,.96],[-.05,.95],[.03,.94],[-.09,.93],[.06,.92],[-.03,.91],[.01,.9],[-.07,.89],[.05,.88],[-.02,.87],[.09,.86],[-.05,.85],[.02,.84],[-.08,.83],[.04,.82],[-.01,.81],[.06,.8],[-.04,.79],[.01,.77],[-.03,.75],[.02,.73],[-.08,1.29],[.1,1.34],[-.13,1.26],[.14,1.23],[-.15,1.18],[.14,1.11],[-.14,1.04],[.14,.96]];
const wtSigDense = [[-4.45,.93],[-4.38,.85],[-4.42,.78],[-4.2,.86],[-4.12,.92],[-4.1,1.02],[-4.05,.78],[-4.02,.98],[-3.95,1.02],[-3.88,.94],[-3.85,.72],[-3.8,.98],[-3.75,1.06],[-3.72,.84],[-3.68,.76],[-3.65,.9],[-3.6,1.02],[-3.55,1.1],[-3.48,.8],[-3.45,.92],[-3.4,.74],[-3.4,1.08],[-3.35,.99],[-3.28,.85],[-3.25,.92],[-3.2,1.1],[-3.15,.97],[-3.12,.84],[-3.1,1.06],[-3.05,.95],[-3,.8],[-3,1.14],[-2.95,1.03],[-2.9,.8],[-2.9,.95],[-2.88,1.08],[-2.85,.88],[-2.8,.92],[-2.78,.98],[-2.75,.82],[-2.72,1.02],[-2.68,.76],[-2.65,.92],[-2.62,1.05],[-2.6,.88],[-2.58,.98],[-2.55,.84],[-2.55,1.1],[-2.5,.78],[-2.48,1.04],[-2.42,.92],[-2.4,.86],[-2.38,.98],[-2.35,1.12],[-2.3,1],[-2.28,.9],[-2.25,.78],[-2.2,.88],[-2.2,1.14],[-2.15,.82],[-2.15,.96],[-2.12,1.06],[-2.05,.85],[-2.05,.91],[-2,1.02],[-1.98,.8],[-1.95,1.12],[-1.9,.85],[-1.85,.95],[-1.85,1.12],[-1.8,1.05],[-1.75,.92],[-1.7,.98],[-1.65,1.05],[-1.65,.88],[-1.58,.96],[-1.5,1],[-1.45,.9],[-.72,1.12],[-.68,.92],[-.62,1.02],[-.58,1.14],[-.52,.98],[-.5,1.2],[-.48,.88],[-.45,1.05],[-.42,1.28],[-.38,1.08],[-.35,1.18],[-.32,.98],[-.3,1.34],[-.28,1.06],[-.25,1.22],[-.22,.92],[-.2,1.14],[-.18,1.3],[-.17,.85],[-.16,1.07],[-.15,1.4],[-.14,.94],[-.12,1.42],[-.1,.88],[-.12,1.18],[.12,1.42],[.1,1.48],[-.1,1.47],[.13,1.3],[.12,1.16],[.12,1.04],[.11,.92],[.09,.83],[-.1,.8],[-.12,.9],[-.06,1.24],[.03,1.12],[.02,1.28],[-.04,1.06],[.05,1.19],[.06,1.02]];
const wtSigExtra = [[-3.85,1.15],[-3.75,1.18],[-3.65,1.23],[-3.55,1.18],[-3.42,1.22],[-3.35,1.15],[-3.25,1.2],[-3.12,1.15],[-3.05,1.2],[-2.95,1.22],[-2.78,1.13],[-2.68,1.19],[-2.5,1.23],[-2.42,1.18],[-2.3,1.22],[-2.22,1.18],[-2.1,1.22],[-2,1.15],[-1.85,1.18],[-1.78,1.12],[-1.68,1.14],[-1.6,1.1],[-1.55,.96],[-1.5,1.08],[-1.42,.98],[-1.38,1.04],[-1.32,.92],[-1.28,.88],[-1.25,1],[-1.2,.92],[-1.18,1.04],[-1.12,.98],[-1.08,1.06],[-1.05,1.14],[-1,.95],[-.98,1.1],[-.92,1.05],[-.88,.88],[-.85,1.02],[-.82,1.12],[-.75,.88],[-.7,.95],[-.68,1.18],[-.62,.95],[-.55,1.02],[-.5,.95],[-.45,.88],[-.42,1.2],[-.38,1.35],[-.35,1.02],[-.3,1.1],[-.28,1.25],[-.25,.96],[-.2,1.04],[-.18,.96],[-.22,1.18],[-.15,1.25],[-.15,.88],[-.12,1.34],[-.1,1.38],[-1.7,.9],[-1.62,.82],[-1.55,.78],[-1.75,.82],[-1.82,.88],[-1.78,.78],[-2.15,.74],[-2.4,.74],[-2.7,.74],[-2.95,.76],[-3.2,.72],[-3.42,.82],[-3.7,.72],[-3.98,.72],[-4.18,.8],[-4.12,.85],[-4.45,1.03],[-4.25,1.13],[-4.15,1.1],[-4.05,1.06],[-3.95,.96],[-3.85,.98],[-3.78,.8],[-3.68,.95],[-3.58,.97],[-3.42,.95],[-3.3,1.03],[-3.18,.9],[-3.08,1],[-2.98,1.02],[-2.88,1.03],[-2.78,1.06],[-2.68,1.02],[-2.58,1.09],[-2.48,1.08],[-2.38,1.03],[-2.28,1.06],[-2.18,1.08],[-2.08,1.04],[-1.98,1.1]];
const wtSigGrey = [[-6.17,.96],[-5.69,1.28],[-5.06,1.33],[-4.97,1.2],[-4.65,1.28],[-4.65,1.22],[-4.63,1.17],[-4.39,1.33],[-4.29,1.2],[-4.85,1.12],[-5.3,1.065],[-4.58,1],[-4.74,.88],[-4.55,.83],[-4.35,.72],[-.88,.7],[-3.7,1.38],[-3.31,1.38],[-3.54,1.32],[-2.99,1.3],[-2.57,1.35],[-2.4,1.27],[-1.75,1.22],[-1.92,1.36],[-1.3,1.38],[-1.07,1.49],[-.07,1.54],[-.07,1.62],[-.55,1.46],[-.81,1.28],[-1,1.09],[-1.14,.81],[-1.56,.85],[.45,1.01],[.55,1.35],[.16,.78],[-1.85,.72],[-2.37,.74],[-2.76,.73],[-3.87,.72],[-.42,.83],[-2.24,1],[-1.66,1.06],[-1.3,1.06],[.23,1.43]];
const wtSigDiv = [[-1.52,1.225],[-.92,1.195],[-2.98,.825],[-2.03,.77],[-3.35,.93],[-3,.93],[-1.85,1.03],[-2.5,1.07],[-.38,1],[-1.3,1.24]];

// row 3 col 2: cyl (x) against log(sigma) (y)
const cylSigPlus = [[-3.33,1.17],[-2.47,1.42],[-2.35,1.28],[-2.21,1.3],[-2.46,1.14],[-2.35,1.09],[-2.25,1.05],[-2.13,1.07],[-1.97,1.01],[-1.87,1.35],[-1.81,1.23],[-1.71,1.13],[-1.8,1.11],[-1.71,1.04],[-1.66,1.4],[-1.48,1.46],[-1.49,1.28],[-1.55,1.09],[-1.42,1.23],[-1.42,1.2],[-1.81,.886],[-1.7,.906],[-1.62,.91],[-1.49,.924],[-1.67,.813],[-1.26,.764],[-1.16,.844],[-1.25,1.256],[-1.21,1.24],[-1.12,1.26],[-1.05,1.17],[-1.31,1.15],[-1.22,1.03],[-1.18,.97],[-1.05,.985],[-.95,1.04],[-.93,.9],[-.9,.85],[-.73,.81],[-.71,.9],[-.51,.87],[-.85,1.42],[-.79,1.35],[-.73,1.34],[-.66,1.26],[-.51,1.29],[-.4,1.27],[-.78,1.14],[-.74,1.11],[-.68,1.16],[-.62,1.1],[-.58,1.24],[-.6,1.05],[-.66,1.03],[-.55,1],[-.5,1.13],[-.47,1.07],[-.45,.95],[-.42,1.19],[-.38,1.12],[-.35,1.03],[-.34,.93],[-.33,1.33],[-.3,1.36],[-.28,1.25],[-.27,1.17],[-.25,1.08],[-.26,.98],[-.27,.89],[-.31,.78],[-.26,.75],[-.24,.73],[-.19,1.32],[-.2,1.22],[-.18,1.12],[-.17,1.02],[-.19,.92],[-.18,.82],[-.15,1.44],[-.19,1.59],[-.05,1.62],[.27,1.4],[.51,1.36],[.3,1.32],[.24,1.3],[.36,1.24],[.2,1.22],[.31,1.2],[.33,1.14],[.18,1.17],[.3,1.05],[.41,1],[.35,1.03],[.32,.93],[.38,.81],[.31,.735],[.17,.98],[.2,.9],[.17,.85],[.02,1.5],[-.03,1.48],[.05,1.46],[-.06,1.45],[.01,1.44],[.08,1.42],[-.04,1.41],[.03,1.4],[-.08,1.39],[.06,1.38],[-.01,1.37],[.09,1.36],[-.05,1.35],[.02,1.34],[-.09,1.33],[.07,1.32],[-.03,1.31],[.04,1.3],[-.07,1.29],[.1,1.28],[0,1.27],[-.05,1.26],[.06,1.25],[-.1,1.24],[.02,1.23],[-.02,1.22],[.08,1.21],[-.06,1.2],[.03,1.19],[-.09,1.18],[.11,1.17],[0,1.16],[-.04,1.15],[.06,1.14],[-.07,1.13],[.02,1.12],[-.11,1.11],[.09,1.1],[-.02,1.09],[.04,1.08],[-.06,1.07],[.07,1.06],[.01,1.05],[-.08,1.04],[.03,1.03],[-.04,1.02],[.1,1.01],[-.01,1],[.05,.99],[-.09,.98],[.02,.97],[-.03,.96],[.07,.95],[-.06,.94],[.01,.93],[.04,.92],[-.05,.91],[.08,.9],[-.02,.89],[.03,.88],[-.07,.87],[.05,.86],[0,.85],[-.04,.84],[.06,.83],[-.08,.82],[.02,.81],[-.02,.8],[.04,.79],[-.05,.78],[.07,.77],[0,.76],[-.03,.75],[.03,.74],[-.06,.73],[.01,.72],[-.01,.71],[.12,1.3],[-.12,1.22],[.12,1.12],[-.13,1.05],[.13,.97],[-.12,.92],[.12,.83],[-.14,1.35],[.13,.76]];
const cylSigDense = [[-.06,1.28],[.05,1.24],[-.03,1.2],[.08,1.18],[-.08,1.16],[.03,1.13],[-.02,1.11],[.06,1.09],[-.06,1.06],[.02,1.04],[.08,1.02],[-.07,1],[.03,.98],[-.03,.95],[.06,.93],[-.08,.9],[.01,.87],[-.05,.85],[.09,.84],[.04,.81],[-.04,.8],[-.01,.78],[.05,.75],[.02,1.42],[-.05,1.39],[.07,1.37],[-.02,1.33],[.05,1.31],[-.09,1.3],[.01,1.29],[-.14,1.28],[-.16,1.2],[-.15,1.1],[-.14,.98],[-.15,.86],[-.22,1.15],[-.22,1.03],[-.22,.93],[-.23,1.28],[-.3,1.2],[-.3,1.1],[-.32,1],[-.3,.9],[-.36,1.16],[-.37,1.07],[-.4,.98],[-.42,1.08],[-.44,1.22],[-.5,1.06],[-.55,1.12],[-.6,1.14],[-.65,1.08],[-.7,1.1],[-.83,.9],[-.8,.88],[-.66,.89],[-.62,.86],[-.56,.9],[-.95,.85],[-.9,1],[.15,1.24],[.16,1.08],[.15,.91],[.18,1.36],[.2,1.05]];
const cylSigExtra = [[-.1,1.4],[-.12,1.33],[-.11,1.27],[-.13,1.19],[-.12,1.15],[-.1,1.07],[-.12,1],[-.1,.94],[-.11,.88],[-.1,.83],[.09,1.44],[.11,1.38],[.1,1.32],[.12,1.26],[.11,1.2],[.13,1.15],[.1,1.08],[.12,1.03],[.1,.96],[.11,.9],[.09,.8],[-.15,1.4],[-.17,1.33],[-.18,1.27],[-.16,1.16],[-.19,1.06],[-.16,1.02],[-.18,.95],[-.16,.91],[-.17,.78],[.14,1.34],[.15,1.18],[.14,1.13],[.15,1.03],[.14,.88],[.04,1.2],[-.04,1.24],[.02,1.16],[-.05,1.11],[.05,1.1],[-.03,1.04],[.04,1.01],[-.06,.97],[.02,.93],[-.04,.88],[.05,.83],[-.09,1.27],[.07,1.16],[-.08,1.09],[.08,1.06],[-.09,.95],[.07,.88],[-.24,1.35],[-.25,1.2],[-.24,1.12],[-.23,.98],[-.24,.84],[-.3,1.27],[-.33,1.22],[-.32,1.15],[-.35,1.1],[-.31,.96],[-.35,.86],[-.29,.84],[-.38,1.25],[-.4,1.2],[-.42,1.13],[-.44,1.02],[-.4,.9],[-.47,1.14],[-.5,1.2],[-.52,1.1],[-.48,1],[-.54,1.16],[-.58,1.06],[-.6,.98],[-.63,1.17],[-.68,1.12],[-.7,.98],[-.75,1.05],[-.8,1.02],[-.83,1.06],[-.88,1.02],[-.92,1.08],[-.9,.9],[-.8,.93],[-.68,.93],[-.58,.95]];
const cylSigGrey = [[-2.55,.96],[-2.1,.72],[-.77,.7],[-1.4,1.38],[-2.47,1.2],[-1.71,1.41],[-2.29,1.28],[-1.45,1.46],[-1.81,1.23],[-1.71,1.15],[-1.84,1.12],[-2.36,1.09],[-2.16,1.07],[-1.92,1.01],[-1.68,1.04],[-1.84,.88],[-1.45,.93],[-1.23,.97],[-1.21,.94],[-1.66,.81],[-1.25,.76],[-1.14,.85],[-.97,.84],[-1,.91],[-.77,.81],[-.82,1.36],[-.77,1.33],[-.04,1.62],[-.06,1.57],[.07,1.52],[.46,1.36],[.44,1.25],[.51,1.12],[.44,.98],[.25,.91],[.4,.8],[.31,.74],[.25,1.32],[-.45,1.29],[-1.32,1.16],[-1.05,1.11],[-.79,1.14],[-.62,1.01],[-.49,.96],[-.42,1.2],[-.3,.78]];
const cylSigDiv = [[-2.53,1.195],[-1.46,1.1],[-1.19,1.09],[-.24,.825],[-.33,.93]];

// greyed hexagon used for the background draws
function greyHex() {
    const c = document.createElement('canvas');
    c.width = 13; c.height = 7;
    const g = c.getContext('2d');
    g.fillStyle = '#bfbfbf';
    g.beginPath();
    g.moveTo(0, 3.5); g.lineTo(3.5, 0); g.lineTo(9.5, 0); g.lineTo(13, 3.5); g.lineTo(9.5, 7); g.lineTo(3.5, 7);
    g.closePath();
    g.fill();
    return c;
}
const hexPoint = greyHex();

const FONT = '"DejaVu Serif", serif';
const LEFT = 62, RIGHT = 12, TOP = 8, BOTTOM = 40;

// tick text in the reference runs a bit wide
Chart.register({ id: 'tickSpacing', beforeDraw(chart) { chart.ctx.letterSpacing = '1px'; } });

function makeCanvas(box) {
    const c = document.createElement('canvas');
    c.width = box.r - box.l + LEFT + RIGHT;
    c.height = box.b - box.t + TOP + BOTTOM;
    c.style.left = (box.l - LEFT) + 'px';
    c.style.top = (box.t - TOP) + 'px';
    document.body.appendChild(c);
    return c.getContext('2d');
}

function axisOptions(lim, ticks, labels, fit) {
    return {
        type: 'linear',
        min: lim[0],
        max: lim[1],
        offset: false,
        border: { display: true, color: '#000', width: 2 },
        grid: { offset: false, drawOnChartArea: false, drawTicks: true, tickLength: 7, tickColor: '#333', tickWidth: 1 },
        afterBuildTicks: a => { a.ticks = ticks.map(v => ({ value: v })); },
        afterFit: a => {
            fit(a);
            // keep the panel edges where they are, the labels may hang over
            a.paddingTop = a.paddingBottom = a.paddingLeft = a.paddingRight = 0;
        },
        ticks: {
            autoSkip: false,
            maxRotation: 0,
            minRotation: 0,
            padding: 9,
            color: '#4d4d4d',
            font: { family: FONT, size: 22 },
            callback: (v, i) => labels[i]
        }
    };
}

function histPanel(box, xlim, ticks, labels, bins, counts, ymax, title) {
    const titlePlugin = {
        id: 'panelTitle',
        afterDraw(chart) {
            const ctx = chart.ctx;
            ctx.save();
            ctx.letterSpacing = '0.4px';
            ctx.font = '31px ' + FONT;
            ctx.fillStyle = '#000';
            ctx.textAlign = 'center';
            ctx.textBaseline = 'alphabetic';
            ctx.fillText(title, (chart.chartArea.left + chart.chartArea.right) / 2, chart.chartArea.top + 22);
            ctx.restore();
        }
    };
    new Chart(makeCanvas(box), {
        type: 'bar',
        data: {
            datasets: [{
                data: bins.map((b, i) => ({ x: b, y: counts[i] })),
                backgroundColor: '#6e6e6e',
                borderColor: '#505050',
                borderWidth: 1.5,
                barPercentage: 1,
                categoryPercentage: 1
            }]
        },
        options: {
            responsive: false,
            animation: false,
            events: [],
            layout: { autoPadding: false, padding: { left: LEFT, right: RIGHT, top: TOP, bottom: 0 } },
            plugins: { legend: { display: false }, tooltip: { enabled: false } },
            scales: {
                x: axisOptions(xlim, ticks, labels, a => { a.height = BOTTOM; }),
                y: { display: false, min: 0, max: ymax }
            }
        },
        plugins: [titlePlugin]
    });
}

function toPoints(list) {
    return list.map(p => ({ x: p[0], y: p[1] }));
}

function pairsPanel(box, xlim, ylim, xticks, xlabels, yticks, ylabels, plus, grey, div) {
    new Chart(makeCanvas(box), {
        type: 'scatter',
        data: {
            // first dataset is painted last
            datasets: [
                { data: toPoints(plus), pointStyle: 'cross', pointRadius: 10, pointBorderColor: '#0000ff', pointBorderWidth: 2, showLine: false },
                { data: toPoints(div), pointStyle: 'crossRot', pointRadius: 6, pointBorderColor: '#b2201f', pointBorderWidth: 2, showLine: false },
                { data: toPoints(grey), pointStyle: hexPoint, showLine: false }
            ]
        },
        options: {
            responsive: false,
            animation: false,
            events: [],
            layout: { autoPadding: false, padding: { left: 0, right: RIGHT, top: TOP, bottom: 0 } },
            plugins: { legend: { display: false }, tooltip: { enabled: false } },
            scales: {
                x: axisOptions(xlim, xticks, xlabels, a => { a.height = BOTTOM; }),
                y: axisOptions(ylim, yticks, ylabels, a => { a.width = LEFT; })
            }
        }
    });
}

histPanel({ l: 16, r: 450, t: 16, b: 234 }, [-7.14, .966], wtHistTicks, wtHistLabels, wtBins, wtCounts, 654, 'wt');
pairsPanel({ l: 522, r: 917, t: 16, b: 234 }, [-2.507, .705], [-6.97, .862], cylTicks.slice(1), cylLabels.slice(1), wtValTicks, wtValLabels, cylWtPlus.concat(cylWtDense, cylWtExtra), cylWtGrey, cylWtDiv);
pairsPanel({ l: 989, r: 1383, t: 16, b: 234 }, [.6106, 1.5566], [-6.97, .862], sigmaXTicks, sigmaXLabels, wtValTicks, wtValLabels, sigWtPlus.concat(sigWtDense, sigWtExtra), sigWtGrey, sigWtDiv);

pairsPanel({ l: 55, r: 450, t: 305, b: 522 }, [-6.447, .877], [-3.5, .717], wtAxisTicks, wtAxisLabels, cylValTicks, cylValLabels, wtCylPlus.concat(wtCylDense), wtCylGrey, wtCylDiv);
histPanel({ l: 483, r: 917, t: 305, b: 522 }, [-3.638, .787], cylTicks, cylLabels, cylBins, cylCounts, 653, 'cyl');
pairsPanel({ l: 989, r: 1383, t: 305, b: 522 }, [.6, 1.555], [-2.5, .746], sigmaXTicks6, sigmaXLabels6, cylValTicks.slice(1), cylValLabels.slice(1), sigCylPlus.concat(sigCylDense, sigCylExtra), sigCylGrey, sigCylDiv);

pairsPanel({ l: 71, r: 450, t: 593, b: 811 }, [-6.51, .877], [.653, 1.662], wtAxisTicks, wtAxisLabels, sigmaYTicks, sigmaYLabels, wtSigPlus.concat(wtSigDense, wtSigExtra), wtSigGrey, wtSigDiv);
pairsPanel({ l: 538, r: 917, t: 593, b: 811 }, [-3.515, .697], [.653, 1.662], cylTicks, cylLabels, sigmaYTicks, sigmaYLabels, cylSigPlus.concat(cylSigDense, cylSigExtra), cylSigGrey, cylSigDiv);
histPanel({ l: 949, r: 1383, t: 593, b: 811 }, [.575, 1.6635], sigmaHistTicks, sigmaHistLabels, sigmaBins, sigmaCounts, 653, 'log(sigma)');
</script>
</body>
</html>
